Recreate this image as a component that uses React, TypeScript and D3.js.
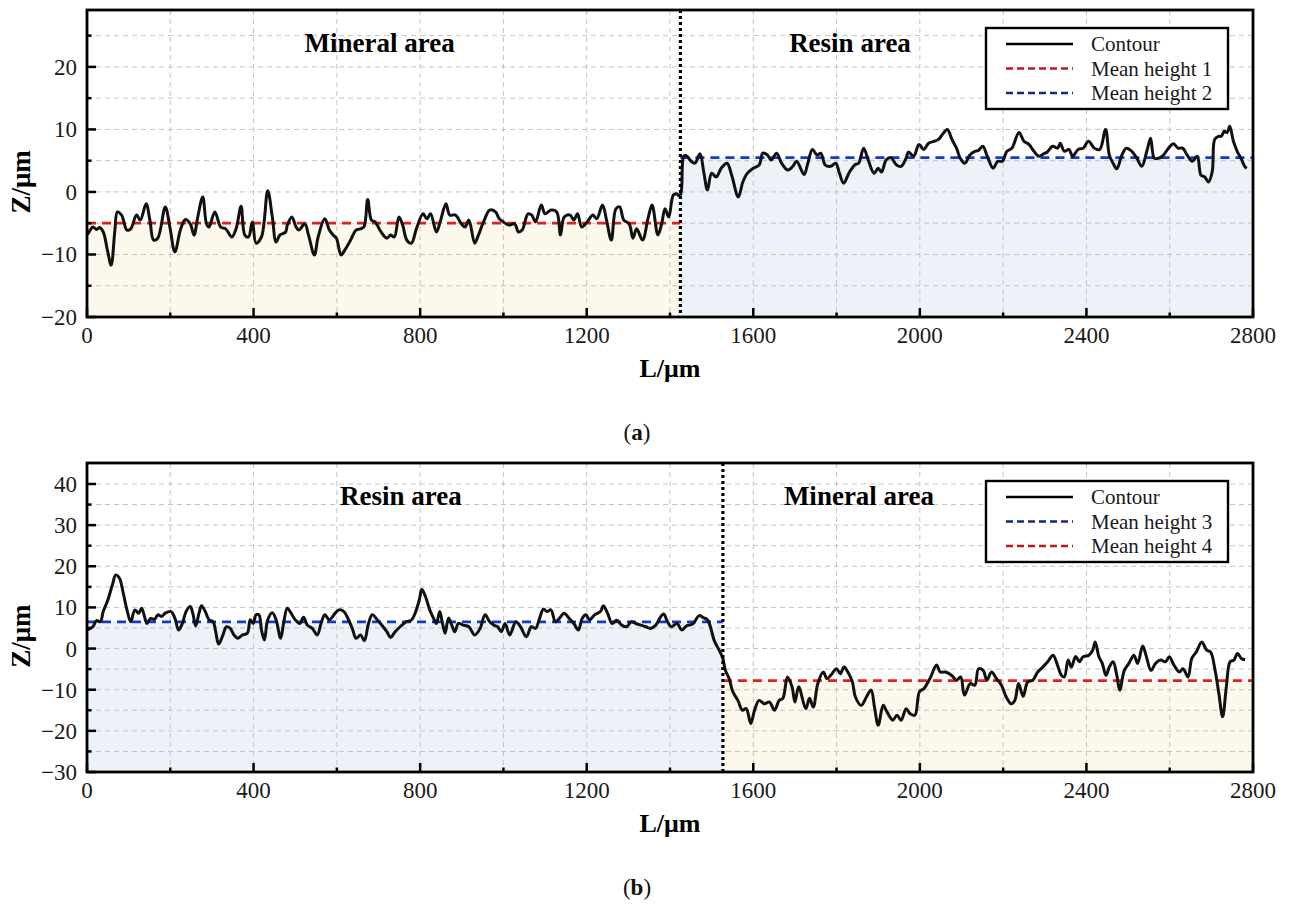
import React from "react";
import * as d3 from "d3";

// ---------- data ----------
const xTicks = [0, 400, 800, 1200, 1600, 2000, 2400, 2800];
const xMinorTicks = [200, 600, 1000, 1400, 1800, 2200, 2600];
const yTicksA = [-20, -10, 0, 10, 20];
const yMinorA = [-15, -5, 5, 15, 25];
const yTicksB = [-30, -20, -10, 0, 10, 20, 30, 40];
const yMinorB = [-25, -15, -5, 5, 15, 25, 35];

const boundaryA = 1425;
const boundaryB = 1527;
const meanHeightsA = [-5.0, 5.5]; // mean height 1 (mineral), mean height 2 (resin)
const meanHeightsB = [6.5, -7.8]; // mean height 3 (resin), mean height 4 (mineral)

const regionLabelsA = ["Mineral area", "Resin area"];
const regionLabelsB = ["Resin area", "Mineral area"];
const legendLabelsA = ["Contour", "Mean height 1", "Mean height 2"];
const legendLabelsB = ["Contour", "Mean height 3", "Mean height 4"];
const captions = ["a", "b"];

const contourA: [number, number][] = [
  [0, -6.8], [5, -6.4], [14, -5.6], [23, -6.0], [30, -5.7], [39, -6.4], [49, -9.3], [58, -11.7], [67, -6.1],
  [73, -3.2], [83, -3.7], [96, -6.1], [105, -5.9], [119, -3.7], [128, -4.5], [142, -1.9], [151, -4.5],
  [160, -7.7], [170, -7.4], [188, -2.4], [199, -5.6], [211, -9.6], [225, -5.9], [236, -4.4], [248, -5.1],
  [257, -6.9], [266, -4.0], [278, -0.8], [287, -5.1], [293, -5.6], [307, -3.2], [321, -5.6], [333, -5.9],
  [348, -7.2], [358, -5.9], [370, -2.3], [379, -6.9], [388, -7.2], [397, -4.8], [406, -8.2], [419, -7.2],
  [434, 0.2], [445, -4.0], [454, -8.0], [463, -6.9], [477, -6.4], [481, -5.3], [492, -4.0], [502, -5.6],
  [509, -6.1], [523, -5.1], [532, -6.9], [546, -10.1], [555, -7.2], [571, -4.3], [582, -6.1], [591, -6.9],
  [599, -7.4], [610, -10.1], [619, -9.3], [633, -7.7], [646, -6.1], [656, -5.9], [665, -5.6], [674, -1.2],
  [683, -4.5], [692, -4.8], [706, -6.4], [720, -7.4], [729, -6.9], [738, -7.2], [749, -4.0], [758, -5.3],
  [768, -7.7], [779, -8.2], [791, -5.9], [807, -3.5], [816, -4.3], [825, -3.5], [839, -6.4], [848, -4.8],
  [862, -1.9], [871, -3.7], [885, -3.7], [899, -5.1], [908, -5.6], [917, -4.5], [931, -8.2], [940, -6.9],
  [954, -4.5], [967, -2.9], [981, -3.2], [990, -4.3], [1000, -4.8], [1013, -5.3], [1027, -5.1], [1036, -6.4],
  [1045, -6.1], [1059, -3.5], [1068, -3.7], [1077, -4.8], [1091, -2.1], [1100, -3.5], [1114, -2.9],
  [1128, -3.2], [1137, -6.9], [1146, -4.0], [1160, -3.7], [1169, -4.5], [1178, -3.5], [1188, -5.6],
  [1201, -4.8], [1215, -3.7], [1224, -4.3], [1238, -2.1], [1247, -4.3], [1259, -7.7], [1270, -2.7],
  [1279, -2.4], [1289, -4.5], [1302, -5.1], [1311, -7.4], [1320, -5.9], [1334, -7.7], [1348, -4.0],
  [1357, -2.1], [1371, -6.9], [1380, -5.1], [1388, -2.7], [1397, -4.0], [1408, -0.5], [1416, -0.3],
  [1421, -0.6], [1426, -0.3], [1433, 5.7], [1439, 5.8], [1451, 4.9], [1460, 4.6], [1472, 6.1], [1481, 3.2],
  [1490, 0.3], [1500, 3.0], [1511, 2.4], [1523, 3.8], [1537, 4.6], [1548, 2.7], [1564, -0.8], [1575, 1.6],
  [1586, 3.0], [1600, 3.8], [1614, 4.3], [1623, 6.2], [1634, 5.9], [1643, 5.1], [1656, 6.2], [1668, 4.6],
  [1683, 3.5], [1695, 4.1], [1704, 4.9], [1722, 2.8], [1731, 4.6], [1742, 6.8], [1753, 5.9], [1762, 6.2],
  [1773, 4.3], [1786, 4.1], [1798, 4.6], [1806, 3.2], [1817, 1.4], [1831, 3.2], [1845, 4.4], [1853, 4.6],
  [1865, 7.0], [1876, 5.1], [1890, 3.0], [1900, 3.8], [1908, 3.2], [1919, 5.1], [1930, 5.5], [1944, 4.3],
  [1955, 4.1], [1967, 5.4], [1973, 6.4], [1985, 5.7], [1998, 7.6], [2009, 6.8], [2021, 7.8], [2034, 8.1],
  [2045, 8.4], [2054, 9.2], [2066, 10.0], [2077, 8.4], [2088, 7.0], [2097, 5.4], [2108, 4.6], [2120, 5.9],
  [2132, 6.5], [2140, 6.6], [2151, 7.3], [2162, 5.7], [2176, 3.8], [2187, 4.9], [2198, 4.9], [2209, 6.5],
  [2221, 7.0], [2238, 9.5], [2250, 8.1], [2262, 7.6], [2274, 6.5], [2286, 5.7], [2297, 6.1], [2306, 6.4],
  [2319, 7.3], [2331, 7.0], [2337, 7.8], [2347, 6.5], [2358, 6.8], [2367, 5.7], [2380, 6.8], [2392, 7.0],
  [2405, 8.1], [2419, 7.0], [2432, 6.8], [2446, 10.0], [2455, 5.9], [2464, 4.6], [2473, 3.7], [2485, 5.9],
  [2496, 7.0], [2509, 6.5], [2521, 5.4], [2533, 4.1], [2545, 6.5], [2554, 8.6], [2563, 5.4], [2574, 5.4],
  [2585, 5.9], [2597, 7.0], [2609, 7.7], [2620, 7.0], [2631, 7.0], [2642, 5.9], [2654, 4.9], [2666, 5.7],
  [2675, 2.7], [2684, 2.4], [2693, 1.6], [2702, 3.2], [2708, 8.4], [2717, 8.9], [2724, 8.9], [2731, 9.7],
  [2738, 9.5], [2744, 10.5], [2753, 8.1], [2762, 6.5], [2771, 5.4], [2780, 4.1], [2785, 3.8],
];

const contourB: [number, number][] = [
  [0, 4.6], [5, 4.7], [14, 5.3], [23, 6.8], [32, 6.5], [39, 9.0], [50, 11.8], [61, 15.5], [69, 17.9],
  [78, 17.1], [87, 13.5], [96, 9.4], [105, 6.5], [115, 9.4], [124, 8.6], [131, 9.8], [138, 7.8], [144, 6.1],
  [153, 7.3], [162, 7.1], [170, 8.2], [179, 7.8], [188, 8.6], [202, 9.0], [211, 7.4], [220, 4.5], [229, 6.1],
  [238, 9.0], [248, 10.2], [254, 8.6], [261, 5.5], [269, 8.6], [275, 10.4], [284, 9.0], [293, 7.0],
  [303, 6.5], [309, 4.1], [316, 1.1], [325, 2.9], [335, 5.3], [344, 4.9], [353, 3.3], [362, 2.5], [373, 3.3],
  [385, 3.7], [392, 7.0], [399, 6.1], [406, 8.2], [413, 8.2], [419, 4.5], [426, 2.1], [434, 7.0], [445, 8.7],
  [454, 7.0], [465, 2.5], [472, 6.1], [481, 9.8], [490, 8.6], [500, 7.0], [511, 6.1], [520, 7.6], [529, 5.7],
  [541, 4.9], [553, 3.3], [562, 6.1], [571, 8.2], [582, 7.0], [596, 8.6], [605, 9.4], [617, 9.0], [628, 7.0],
  [637, 4.9], [646, 2.5], [657, 3.3], [666, 1.9], [676, 6.1], [685, 8.2], [697, 7.0], [711, 5.3], [720, 4.1],
  [729, 2.7], [740, 4.1], [752, 5.3], [766, 6.5], [779, 6.9], [788, 8.6], [798, 11.8], [804, 14.4],
  [813, 12.6], [823, 9.4], [832, 7.4], [839, 6.1], [847, 9.0], [853, 6.5], [860, 3.7], [868, 7.4], [876, 5.7],
  [883, 4.1], [892, 6.1], [903, 5.7], [917, 5.3], [931, 3.3], [944, 4.9], [956, 8.2], [967, 6.5], [977, 5.7],
  [986, 5.3], [995, 4.1], [1004, 6.1], [1015, 3.3], [1030, 6.5], [1041, 5.3], [1055, 2.9], [1067, 5.3],
  [1077, 4.9], [1087, 7.4], [1096, 9.6], [1105, 9.0], [1114, 9.4], [1125, 6.5], [1134, 7.3], [1146, 8.6],
  [1158, 7.3], [1169, 6.1], [1180, 4.5], [1189, 7.3], [1198, 8.2], [1207, 7.0], [1219, 8.2], [1233, 9.0],
  [1240, 10.4], [1250, 8.6], [1261, 6.1], [1272, 6.9], [1284, 5.7], [1296, 5.3], [1307, 6.5], [1318, 6.1],
  [1330, 5.7], [1342, 5.3], [1353, 4.9], [1366, 5.7], [1378, 7.8], [1385, 8.4], [1394, 6.5], [1403, 5.3],
  [1417, 6.1], [1428, 4.5], [1440, 5.5], [1455, 6.0], [1470, 8.0], [1480, 7.5], [1490, 7.0], [1497, 5.3],
  [1506, 2.0], [1518, -0.4], [1527, -2.4], [1533, -5.3], [1542, -7.3], [1551, -10.5], [1563, -12.6],
  [1574, -15.0], [1583, -14.6], [1594, -18.2], [1603, -15.0], [1614, -12.6], [1626, -13.4], [1639, -13.0],
  [1651, -15.0], [1662, -12.6], [1671, -12.1], [1682, -6.9], [1693, -9.3], [1700, -13.0], [1709, -9.3],
  [1726, -14.6], [1735, -12.1], [1744, -14.2], [1755, -8.5], [1768, -5.7], [1777, -7.3], [1786, -6.5],
  [1800, -4.9], [1809, -6.1], [1818, -4.5], [1827, -5.7], [1838, -8.1], [1845, -11.7], [1859, -13.8],
  [1872, -11.7], [1883, -10.1], [1891, -14.2], [1900, -18.6], [1912, -13.8], [1921, -15.4], [1935, -17.4],
  [1945, -16.2], [1955, -17.4], [1967, -14.6], [1976, -15.8], [1988, -16.2], [1999, -10.5], [2010, -9.7],
  [2026, -6.9], [2040, -4.0], [2049, -5.7], [2062, -5.7], [2076, -6.5], [2088, -7.7], [2098, -6.9],
  [2107, -11.3], [2121, -8.5], [2132, -8.9], [2141, -4.9], [2152, -5.3], [2161, -7.7], [2172, -5.7],
  [2184, -7.3], [2196, -8.9], [2207, -11.7], [2219, -13.4], [2228, -12.6], [2237, -8.5], [2248, -11.6],
  [2259, -8.1], [2271, -7.7], [2283, -5.7], [2295, -4.5], [2307, -3.2], [2320, -1.6], [2329, -3.6],
  [2340, -6.5], [2347, -6.9], [2356, -2.8], [2364, -4.5], [2374, -1.9], [2383, -3.2], [2392, -2.0],
  [2406, -1.6], [2415, -0.4], [2421, 1.6], [2430, -2.0], [2438, -3.6], [2447, -6.5], [2455, -4.5],
  [2464, -3.2], [2473, -6.5], [2480, -10.1], [2491, -5.3], [2502, -3.6], [2514, -1.6], [2523, -3.6],
  [2535, 0.6], [2543, -1.6], [2555, -5.3], [2566, -3.6], [2578, -2.8], [2590, -3.2], [2599, -2.0],
  [2610, -4.0], [2623, -5.7], [2632, -4.9], [2644, -6.9], [2653, -2.4], [2664, -0.8], [2677, 1.6],
  [2689, -0.4], [2698, -0.8], [2709, -5.3], [2718, -10.9], [2727, -16.6], [2736, -9.3], [2745, -3.2],
  [2754, -2.8], [2763, -1.2], [2772, -2.4], [2781, -2.7],
];

// ---------- style ----------
const FONT = "'Liberation Serif', 'Times New Roman', serif";
const RED = "#e0201c";
const BLUE = "#1838c8";
const RED_LEG = "#c4141c";
const BLUE_LEG = "#17287a";
const CREAM = "#fcf8ec";
const ICE = "#edf2f9";
const GRID = "#c4c4c4";

const X0 = 87;
const X1 = 1253;

type PanelProps = {
  top: number;
  bottom: number;
  yDomain: [number, number];
  yMajor: number[];
  yMinor: number[];
  boundary: number;
  means: number[];
  leftColor: string;
  rightColor: string;
  leftFill: string;
  rightFill: string;
  leftLegColor: string;
  rightLegColor: string;
  contour: [number, number][];
  regions: string[];
  legend: string[];
  caption: string;
};

function Panel(p: PanelProps) {
  const x = d3.scaleLinear().domain([0, 2800]).range([X0, X1]);
  const y = d3.scaleLinear().domain(p.yDomain).range([p.bottom, p.top]);
  const line = d3
    .line<[number, number]>()
    .x((d) => x(d[0]))
    .y((d) => y(d[1]))
    .curve(d3.curveCatmullRom.alpha(0.5));
  const yGrid = [...p.yMajor, ...p.yMinor].filter((v) => y(v) > p.top + 2 && y(v) < p.bottom - 2);
  const xGrid = [...xTicks, ...xMinorTicks].filter((v) => v > 0 && v < 2800);
  const bx = x(p.boundary);
  const legX = 986;
  const legY = p.top + 18;
  const rowH = 24.5;
  const legColors = ["#000", p.leftLegColor, p.rightLegColor];
  return (
    <g>
      {/* fills below mean heights */}
      <rect x={x(0)} y={y(p.means[0])} width={bx - x(0)} height={p.bottom - y(p.means[0])} fill={p.leftFill} />
      <rect x={bx} y={y(p.means[1])} width={x(2800) - bx} height={p.bottom - y(p.means[1])} fill={p.rightFill} />
      {/* grid */}
      {yGrid.map((v) => (
        <line key={"gy" + v} x1={X0} x2={X1} y1={y(v)} y2={y(v)} stroke={GRID} strokeWidth={1} strokeDasharray="5,4" />
      ))}
      {xGrid.map((v) => (
        <line key={"gx" + v} x1={x(v)} x2={x(v)} y1={p.top} y2={p.bottom} stroke={GRID} strokeWidth={1} strokeDasharray="5,4" />
      ))}
      {/* mean lines */}
      <line x1={x(0)} x2={bx} y1={y(p.means[0])} y2={y(p.means[0])} stroke={p.leftColor} strokeWidth={2.8} strokeDasharray="9,6" />
      <line x1={bx} x2={x(2800)} y1={y(p.means[1])} y2={y(p.means[1])} stroke={p.rightColor} strokeWidth={2.8} strokeDasharray="9,6" />
      {/* contour */}
      <path d={line(p.contour) || ""} fill="none" stroke="#111" strokeWidth={3} strokeLinejoin="round" />
      {/* boundary */}
      <line x1={bx} x2={bx} y1={p.top} y2={p.bottom} stroke="#000" strokeWidth={3.2} strokeDasharray="3,3" />
      {/* frame */}
      <rect x={X0} y={p.top} width={X1 - X0} height={p.bottom - p.top} fill="none" stroke="#000" strokeWidth={2.8} />
      {/* ticks */}
      {xTicks.map((v) => (
        <line key={"tx" + v} x1={x(v)} x2={x(v)} y1={p.bottom} y2={p.bottom - 9} stroke="#000" strokeWidth={2.5} />
      ))}
      {xMinorTicks.map((v) => (
        <line key={"mx" + v} x1={x(v)} x2={x(v)} y1={p.bottom} y2={p.bottom - 4.5} stroke="#000" strokeWidth={2.5} />
      ))}
      {p.yMajor.map((v) => (
        <line key={"ty" + v} x1={X0} x2={X0 + 9} y1={y(v)} y2={y(v)} stroke="#000" strokeWidth={2.5} />
      ))}
      {p.yMinor.map((v) => (
        <line key={"my" + v} x1={X0} x2={X0 + 4.5} y1={y(v)} y2={y(v)} stroke="#000" strokeWidth={2.5} />
      ))}
      {/* tick labels */}
      {p.yMajor.map((v) => (
        <text key={"ly" + v} x={X0 - 10} y={y(v) + 8} textAnchor="end" fontFamily={FONT} fontSize={23} fill="#1a1a1a">
          {v < 0 ? "\u2212" + Math.abs(v) : String(v)}
        </text>
      ))}
      {xTicks.map((v) => (
        <text key={"lx" + v} x={x(v)} y={p.bottom + 26} textAnchor="middle" fontFamily={FONT} fontSize={23} fill="#1a1a1a">
          {v}
        </text>
      ))}
      {/* axis titles */}
      <text x={670} y={p.bottom + 60} textAnchor="middle" fontFamily={FONT} fontSize={26} fontWeight="bold">
        L/μm
      </text>
      <text
        transform={`translate(30, ${p.top + (p.bottom - p.top) * 0.56}) rotate(-90)`}
        textAnchor="middle"
        fontFamily={FONT}
        fontSize={27}
        fontWeight="bold"
      >
        Z/μm
      </text>
      {/* region labels */}
      <text x={(x(0) + bx) / 2 - 4} y={p.top + 42} textAnchor="middle" fontFamily={FONT} fontSize={27} fontWeight="bold">
        {p.regions[0]}
      </text>
      <text x={p.boundary < 1500 ? 850 : 859} y={p.top + 42} textAnchor="middle" fontFamily={FONT} fontSize={27} fontWeight="bold">
        {p.regions[1]}
      </text>
      {/* legend */}
      <rect x={legX} y={legY} width={242} height={81} fill="#fff" stroke="#000" strokeWidth={2.4} />
      {p.legend.map((s, i) => (
        <g key={"leg" + i}>
          <line
            x1={1006}
            x2={1073}
            y1={legY + 16 + i * rowH}
            y2={legY + 16 + i * rowH}
            stroke={legColors[i]}
            strokeWidth={2.6}
            strokeDasharray={i === 0 ? undefined : "7,4"}
          />
          <text x={1091} y={legY + 16 + i * rowH + 7} fontFamily={FONT} fontSize={21} fill="#1a1a1a">
            {s}
          </text>
        </g>
      ))}
      {/* caption */}
      <text x={637} y={p.bottom + 123} textAnchor="middle" fontFamily={FONT} fontSize={23} fill="#111">
        (<tspan fontWeight="bold">{p.caption}</tspan>)
      </text>
    </g>
  );
}

export default function App() {
  return (
    <div style={{ position: "absolute", left: 0, top: 0, background: "#fff" }}>
      <svg width={1290} height={905} viewBox="0 0 1290 905" style={{ display: "block" }}>
        <rect width={1290} height={905} fill="#fff" />
        <Panel
          top={10}
          bottom={317}
          yDomain={[-20, 29.1]}
          yMajor={yTicksA}
          yMinor={yMinorA}
          boundary={boundaryA}
          means={meanHeightsA}
          leftColor={RED}
          rightColor={BLUE}
          leftFill={CREAM}
          rightFill={ICE}
          leftLegColor={RED_LEG}
          rightLegColor={BLUE_LEG}
          contour={contourA}
          regions={regionLabelsA}
          legend={legendLabelsA}
          caption={captions[0]}
        />
        <Panel
          top={463}
          bottom={772}
          yDomain={[-30, 45.1]}
          yMajor={yTicksB}
          yMinor={yMinorB}
          boundary={boundaryB}
          means={meanHeightsB}
          leftColor={BLUE}
          rightColor={RED}
          leftFill={ICE}
          rightFill={CREAM}
          leftLegColor={BLUE_LEG}
          rightLegColor={RED_LEG}
          contour={contourB}
          regions={regionLabelsB}
          legend={legendLabelsB}
          caption={captions[1]}
        />
      </svg>
    </div>
  );
}
